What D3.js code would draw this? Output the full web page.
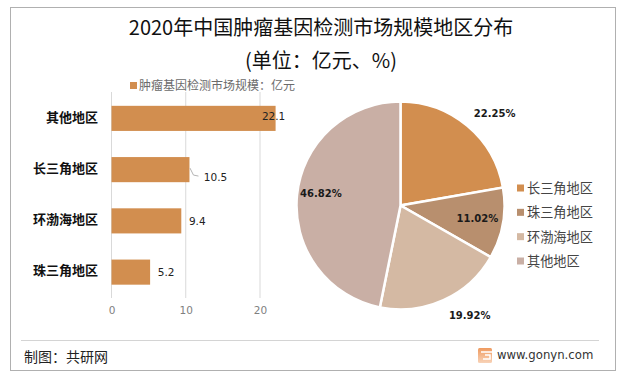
<!DOCTYPE html>
<html>
<head>
<meta charset="utf-8">
<title>2020年中国肿瘤基因检测市场规模地区分布</title>
<script src="https://cdn.jsdelivr.net/npm/d3@7/dist/d3.min.js"></script>
<style>
  html, body { margin: 0; padding: 0; background: #fff; }
  svg { display: block; }
  text { font-family: "Noto Sans CJK SC", "Noto Sans", sans-serif; }
  .num { font-family: "DejaVu Sans", sans-serif; }
</style>
</head>
<body>
<svg width="625" height="376"></svg>
<script>
// bar chart data
var barRegions = ['其他地区', '长三角地区', '环渤海地区', '珠三角地区'];
var barValues = [22.1, 10.5, 9.4, 5.2];
var barTicks = [0, 10, 20];
var barSeriesName = '肿瘤基因检测市场规模\uFF1A亿元';

// pie chart data
var pieRegions = ['长三角地区', '珠三角地区', '环渤海地区', '其他地区'];
var pieValues = [22.25, 11.02, 19.92, 46.82];

var titleLines = ['2020年中国肿瘤基因检测市场规模地区分布', '(单位\uFF1A亿元、%)'];
var sourceText = '制图\uFF1A共研网';
var siteText = 'www.gonyn.com';

// layout tweaks for the data labels
var barLabelCenter = [-2, 26, 16, 16];
var barLabelShift = [-2, 7, 0, 0];
var pieLabelShift = [[44, -29], [0, 3], [37, 42], [-2, -1]];
var pieColors = ['#d28e4f', '#b88f6e', '#d4b9a3', '#c9afa5'];
var barColor = '#d28e4f';

var svg = d3.select('svg');

// outer frame
svg.append('rect')
  .attr('x', 10.5).attr('y', 7.5)
  .attr('width', 605).attr('height', 363)
  .attr('fill', '#fff').attr('stroke', '#b0b0b0').attr('stroke-width', 1);

// title
svg.selectAll('.title')
  .data(titleLines)
  .enter()
  .append('text')
  .attr('class', 'title')
  .attr('x', 321)
  .attr('y', function(d, i) { return i === 0 ? 35 : 68; })
  .attr('text-anchor', 'middle')
  .attr('font-size', 20)
  .attr('fill', '#111')
  .text(function(d) { return d; });

// ---- bars ----
var x = d3.scaleLinear().domain([0, 20]).range([111.5, 260]);
var y = d3.scaleBand().domain(barRegions).range([92.5, 298]).paddingInner(0.51).paddingOuter(0.26);

svg.append('g')
  .selectAll('line')
  .data(barTicks)
  .enter()
  .append('line')
  .attr('x1', function(d) { return x(d); })
  .attr('x2', function(d) { return x(d); })
  .attr('y1', 92)
  .attr('y2', 298)
  .attr('stroke', '#d9d9d9');

svg.append('g')
  .selectAll('rect')
  .data(barValues)
  .enter()
  .append('rect')
  .attr('x', x(0))
  .attr('y', function(d, i) { return y(barRegions[i]); })
  .attr('width', function(d) { return x(d) - x(0); })
  .attr('height', y.bandwidth())
  .attr('fill', barColor);

// axis labels
var xAxis = d3.axisBottom(x).tickValues(barTicks).tickSize(0).tickPadding(0);
var xAxisG = svg.append('g').attr('transform', 'translate(0,307)').call(xAxis);
xAxisG.select('.domain').remove();
xAxisG.selectAll('text')
  .attr('class', 'num')
  .attr('font-size', 10.5)
  .attr('fill', '#7f7f7f')
  .style('font-family', '"DejaVu Sans", sans-serif');

var yAxis = d3.axisLeft(y).tickSize(0).tickPadding(0);
var yAxisG = svg.append('g').attr('transform', 'translate(98,-1)').call(yAxis);
yAxisG.select('.domain').remove();
yAxisG.selectAll('text')
  .attr('font-size', 13)
  .attr('font-weight', 700)
  .attr('fill', '#111')
  .style('font-family', '"Noto Sans CJK SC", sans-serif');

// bar value labels
svg.append('g')
  .selectAll('text')
  .data(barValues)
  .enter()
  .append('text')
  .attr('class', 'num')
  .attr('x', function(d, i) { return x(d) + barLabelCenter[i]; })
  .attr('y', function(d, i) { return y(barRegions[i]) + y.bandwidth() / 2 + barLabelShift[i] + 4; })
  .attr('text-anchor', 'middle')
  .attr('font-size', 10.5)
  .attr('fill', '#222')
  .text(function(d) { return d.toFixed(1); });

// leader line for the 10.5 label
svg.append('path')
  .attr('d', d3.line()([
    [x(10.5) + 0.5, y('长三角地区') + 11],
    [x(10.5) + 4, y('长三角地区') + 18],
    [x(10.5) + 9, y('长三角地区') + 19]
  ]))
  .attr('fill', 'none')
  .attr('stroke', '#b5b5b5');

// bar legend
svg.append('rect')
  .attr('x', 130).attr('y', 82)
  .attr('width', 7).attr('height', 7)
  .attr('fill', barColor);
svg.append('text')
  .attr('x', 139).attr('y', 90)
  .attr('font-size', 12)
  .attr('fill', '#6b6b6b')
  .text(barSeriesName);

// ---- pie ----
var radius = 104;
var pie = d3.pie().sort(null).value(function(d) { return d; });
var arc = d3.arc().innerRadius(0).outerRadius(radius);
var labelArc = d3.arc().innerRadius(radius * 0.75).outerRadius(radius * 0.75);
var pieG = svg.append('g').attr('transform', 'translate(400.5,205.5)');
var arcs = pie(pieValues);

pieG.selectAll('path')
  .data(arcs)
  .enter()
  .append('path')
  .attr('d', arc)
  .attr('fill', function(d, i) { return pieColors[i]; })
  .attr('stroke', '#fff')
  .attr('stroke-width', 2.5);

pieG.selectAll('text')
  .data(arcs)
  .enter()
  .append('text')
  .attr('class', 'num')
  .attr('x', function(d, i) { return labelArc.centroid(d)[0] + pieLabelShift[i][0]; })
  .attr('y', function(d, i) { return labelArc.centroid(d)[1] + pieLabelShift[i][1]; })
  .attr('text-anchor', 'middle')
  .attr('font-size', 10)
  .attr('font-weight', 700)
  .attr('fill', '#1a1a1a')
  .text(function(d) { return d.value.toFixed(2) + '%'; });

// pie legend
var legendY = d3.scalePoint().domain(pieRegions).range([188, 261]);
var legend = svg.append('g')
  .selectAll('g')
  .data(pieRegions)
  .enter()
  .append('g')
  .attr('transform', function(d) { return 'translate(517,' + legendY(d) + ')'; });
legend.append('rect')
  .attr('x', 0).attr('y', -3.5)
  .attr('width', 7).attr('height', 7)
  .attr('fill', function(d, i) { return pieColors[i]; });
legend.append('text')
  .attr('x', 10).attr('y', 5)
  .attr('font-size', 13.2)
  .attr('fill', '#444')
  .text(function(d) { return d; });

// ---- footer ----
svg.append('line')
  .attr('x1', 21).attr('x2', 599)
  .attr('y1', 340.5).attr('y2', 340.5)
  .attr('stroke', '#d4d4d4');
svg.append('text')
  .attr('x', 24).attr('y', 362)
  .attr('font-size', 14)
  .attr('fill', '#222')
  .text(sourceText);

var grad = svg.append('defs').append('linearGradient')
  .attr('id', 'logoFill').attr('x1', 0).attr('y1', 0).attr('x2', 0).attr('y2', 1);
grad.append('stop').attr('offset', 0).attr('stop-color', '#ef9a5f');
grad.append('stop').attr('offset', 1).attr('stop-color', '#f8d3b8');
svg.append('rect')
  .attr('x', 478).attr('y', 348)
  .attr('width', 14).attr('height', 15)
  .attr('rx', 1.5)
  .attr('fill', 'url(#logoFill)');
svg.append('path')
  .attr('d', 'M481 352H492M485 355H490V359H483')
  .attr('fill', 'none').attr('stroke', '#fff').attr('stroke-width', 1.5);
svg.append('text')
  .attr('class', 'num')
  .attr('x', 497).attr('y', 359)
  .attr('font-size', 11.7)
  .attr('fill', '#333')
  .text(siteText);
</script>
</body>
</html>
